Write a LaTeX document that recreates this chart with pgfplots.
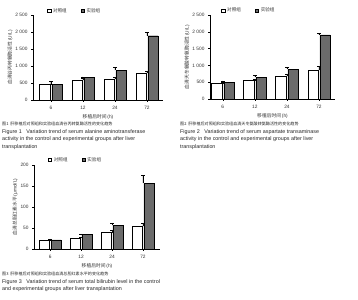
\documentclass[border=0pt]{standalone}
\usepackage{pgfplots}
\pgfplotsset{compat=1.18}
\usepackage{fontspec}
\setmainfont{Liberation Sans}
\newfontfamily\cjk{Noto Sans CJK SC}
\begin{document}
\begin{tikzpicture}[x=1bp,y=1bp]
\useasboundingbox (0,0) rectangle (358,300);
\pgfplotsset{
  chart/.style={
    scale only axis,
    axis lines=left,
    axis line style={-, line width=0.5bp},
    ymin=0,
    xtick={0,1,2,3},
    xticklabels={6,12,24,72},
    tick align=outside,
    major tick length=2bp,
    tick style={black, line width=0.4bp},
    /pgf/number format/1000 sep={\hspace{1.4bp}},
    /pgf/number format/assume math mode=true,
    tick label style={font=\fontsize{4.8}{5.5}\selectfont, text=black!80},
    xticklabel style={yshift=-1bp},
    label style={font=\fontsize{4.8}{5.5}\selectfont, text=black!80},
    xlabel={\cjk 移植后时间}\,(h),
    xlabel style={yshift=2.5bp},
    ylabel style={yshift=-4bp},
    legend columns=2,
    legend style={draw=none, fill=none, font=\fontsize{4.6}{5.5}\selectfont, text=black!80,
      /tikz/every even column/.append style={column sep=12bp}, inner sep=0pt},
    legend image code/.code={\draw[#1, line width=0.4bp] (0bp,-1.7bp) rectangle (3.4bp,1.7bp);},
  },
  ctrl/.style={ybar, bar width=0.32, bar shift=-0.19, fill=white, draw=black, line width=0.45bp,
    error bars/.cd, y dir=plus, y explicit, error bar style={line width=0.35bp, black},
    error mark options={rotate=90, mark size=1.7bp, line width=0.35bp}},
  expt/.style={ybar, bar width=0.32, bar shift=0.19, fill=black!58, draw=black, line width=0.45bp,
    error bars/.cd, y dir=plus, y explicit, error bar style={line width=0.35bp, black},
    error mark options={rotate=90, mark size=1.7bp, line width=0.35bp}},
}
% ---------- Figure 1 ----------
\begin{axis}[chart, at={(33bp,200bp)}, anchor=south west,
  width=130bp, height=85bp, xmin=-0.56, xmax=3.5, ymax=2500,
  ytick={0,500,1000,1500,2000,2500},
  ylabel={\cjk 血清谷丙转氨酶活性}\,(U/L),
  legend style={at={(0.108,1.047)}, anchor=west}]
\addplot[ctrl] coordinates {(0,470) +- (0,70) (1,580) +- (0,55) (2,620) +- (0,50) (3,790) +- (0,55)};
\addplot[expt] coordinates {(0,450) +- (0,90) (1,670) +- (0,15) (2,870) +- (0,90) (3,1890) +- (0,95)};
\legend{{\cjk 对照组},{\cjk 实验组}}
\end{axis}
% ---------- Figure 2 ----------
\begin{axis}[chart, at={(210bp,201bp)}, anchor=south west,
  width=125bp, height=84bp, xmin=-0.4, xmax=3.5, ymax=2500,
  ytick={0,500,1000,1500,2000,2500},
  ylabel={\cjk 血清天冬氨酸转氨酶活性}\,(U/L),
  legend style={at={(0.09,1.05)}, anchor=west}]
\addplot[ctrl] coordinates {(0,455) +- (0,90) (1,545) +- (0,55) (2,670) +- (0,75) (3,870) +- (0,95)};
\addplot[expt] coordinates {(0,485) +- (0,20) (1,650) +- (0,50) (2,890) +- (0,45) (3,1905) +- (0,45)};
\legend{{\cjk 对照组},{\cjk 实验组}}
\end{axis}
% ---------- Figure 3 ----------
\begin{axis}[chart, at={(34bp,51bp)}, anchor=south west,
  width=126bp, height=84bp, xmin=-0.52, xmax=3.55, ymax=200,
  ytick={0,50,100,150,200},
  ylabel={\cjk 血清总胆红素水平}\,(μmol/L),
  legend style={at={(0.11,1.06)}, anchor=west}]
\addplot[ctrl] coordinates {(0,22) +- (0,0) (1,26.5) +- (0,1.5) (2,39) +- (0,6) (3,54) +- (0,8)};
\addplot[expt] coordinates {(0,22) +- (0,2) (1,34) +- (0,1) (2,56) +- (0,6) (3,157) +- (0,19)};
\legend{{\cjk 对照组},{\cjk 实验组}}
\end{axis}
% ---------- Captions ----------
\begin{scope}[every node/.style={anchor=base west, inner sep=0pt, text=black!85}]
\node[font=\fontsize{4.1}{4.8}\selectfont] at (2,175) {\cjk 图1\ \ 肝移植后对照组和实验组血清谷丙转氨酶活性的变化趋势};
\node[font=\fontsize{5.4}{6}\selectfont] at (2,167) {Figure 1\ \ \ Variation trend of serum alanine aminotransferase};
\node[font=\fontsize{5.4}{6}\selectfont] at (2,159.5) {activity in the control and experimental groups after liver};
\node[font=\fontsize{5.4}{6}\selectfont] at (2,152) {transplantation};
\node[font=\fontsize{4.1}{4.8}\selectfont] at (180,175) {\cjk 图2\ \ 肝移植后对照组和实验组血清天冬氨酸转氨酶活性的变化趋势};
\node[font=\fontsize{5.4}{6}\selectfont] at (180,167) {Figure 2\ \ \ Variation trend of serum aspartate transaminase};
\node[font=\fontsize{5.4}{6}\selectfont] at (180,159.5) {activity in the control and experimental groups after liver};
\node[font=\fontsize{5.4}{6}\selectfont] at (180,152) {transplantation};
\node[font=\fontsize{4.1}{4.8}\selectfont] at (2,25) {\cjk 图3\ \ 肝移植后对照组和实验组血清总胆红素水平的变化趋势};
\node[font=\fontsize{5.4}{6}\selectfont] at (2,17) {Figure 3\ \ \ Variation trend of serum total bilirubin level in the control};
\node[font=\fontsize{5.4}{6}\selectfont] at (2,9.5) {and experimental groups after liver transplantation};
\end{scope}
\end{tikzpicture}
\end{document}
